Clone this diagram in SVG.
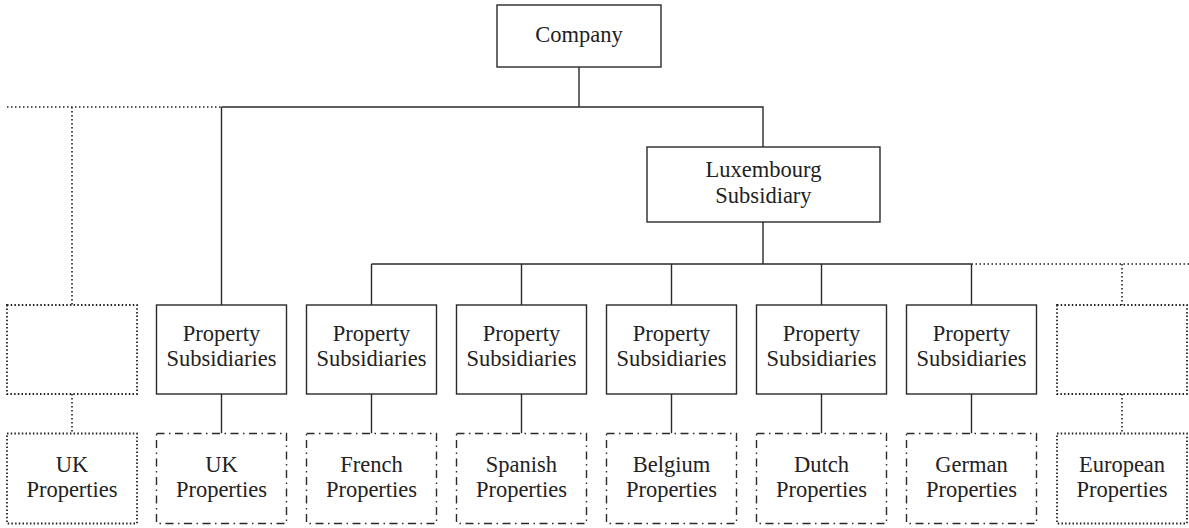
<svg xmlns="http://www.w3.org/2000/svg" width="1189" height="528" viewBox="0 0 1189 528">
<style>
.box{fill:#fff;stroke:#2a2a2a;stroke-width:1.4}
.dd{fill:#fff;stroke:#2a2a2a;stroke-width:1.4;stroke-dasharray:8 4.5 1.5 4.5}
.dot{fill:#fff;stroke:#222;stroke-width:1.8;stroke-dasharray:1.5 2.2}
.ln{fill:none;stroke:#2a2a2a;stroke-width:1.4}
.dln{fill:none;stroke:#222;stroke-width:1.6;stroke-dasharray:1.5 2.5}
text{font-family:"Liberation Serif","Times New Roman",serif;font-size:22.5px;fill:#222;text-anchor:middle}
</style>
<rect width="1189" height="528" fill="#fff"/>
<g id="connectors">
<path class="ln" d="M579 67V107M221.5 107H763V147M221.5 107V305M763 222V264M371.5 264H971.5M371.5 264V305M521.5 264V305M671.5 264V305M821.5 264V305M971.5 264V305"/>
<path class="ln" d="M221.5 394V433.5M371.5 394V433.5M521.5 394V433.5M671.5 394V433.5M821.5 394V433.5M971.5 394V433.5"/>
<path class="dln" d="M7 107H221.5M72 107V305M72 394V433.5M971.5 264H1189M1122 264V305M1122 394V433.5"/>
</g>
<g id="company"><rect class="box" x="497" y="5" width="164" height="62"/><text x="579" y="42">Company</text></g>
<g id="lux"><rect class="box" x="647" y="147" width="233" height="75"/><text x="763.5" y="177">Luxembourg</text><text x="763.5" y="203">Subsidiary</text></g>
<g id="left-empty"><rect class="dot" x="7" y="305" width="130" height="89"/></g>
<g id="left-uk"><rect class="dot" x="7" y="433.5" width="130" height="90"/><text x="72" y="472">UK</text><text x="72" y="497">Properties</text></g>
<g id="ps1"><rect class="box" x="156.5" y="305" width="130" height="89"/><text x="221.5" y="341">Property</text><text x="221.5" y="366">Subsidiaries</text></g>
<g id="ps2"><rect class="box" x="306.5" y="305" width="130" height="89"/><text x="371.5" y="341">Property</text><text x="371.5" y="366">Subsidiaries</text></g>
<g id="ps3"><rect class="box" x="456.5" y="305" width="130" height="89"/><text x="521.5" y="341">Property</text><text x="521.5" y="366">Subsidiaries</text></g>
<g id="ps4"><rect class="box" x="606.5" y="305" width="130" height="89"/><text x="671.5" y="341">Property</text><text x="671.5" y="366">Subsidiaries</text></g>
<g id="ps5"><rect class="box" x="756.5" y="305" width="130" height="89"/><text x="821.5" y="341">Property</text><text x="821.5" y="366">Subsidiaries</text></g>
<g id="ps6"><rect class="box" x="906.5" y="305" width="130" height="89"/><text x="971.5" y="341">Property</text><text x="971.5" y="366">Subsidiaries</text></g>
<g id="uk"><rect class="dd" x="156.5" y="433.5" width="130" height="90"/><text x="221.5" y="472">UK</text><text x="221.5" y="497">Properties</text></g>
<g id="french"><rect class="dd" x="306.5" y="433.5" width="130" height="90"/><text x="371.5" y="472">French</text><text x="371.5" y="497">Properties</text></g>
<g id="spanish"><rect class="dd" x="456.5" y="433.5" width="130" height="90"/><text x="521.5" y="472">Spanish</text><text x="521.5" y="497">Properties</text></g>
<g id="belgium"><rect class="dd" x="606.5" y="433.5" width="130" height="90"/><text x="671.5" y="472">Belgium</text><text x="671.5" y="497">Properties</text></g>
<g id="dutch"><rect class="dd" x="756.5" y="433.5" width="130" height="90"/><text x="821.5" y="472">Dutch</text><text x="821.5" y="497">Properties</text></g>
<g id="german"><rect class="dd" x="906.5" y="433.5" width="130" height="90"/><text x="971.5" y="472">German</text><text x="971.5" y="497">Properties</text></g>
<g id="right-empty"><rect class="dot" x="1057" y="305" width="130" height="89"/></g>
<g id="european"><rect class="dot" x="1057" y="433.5" width="130" height="90"/><text x="1122" y="472">European</text><text x="1122" y="497">Properties</text></g>
</svg>
